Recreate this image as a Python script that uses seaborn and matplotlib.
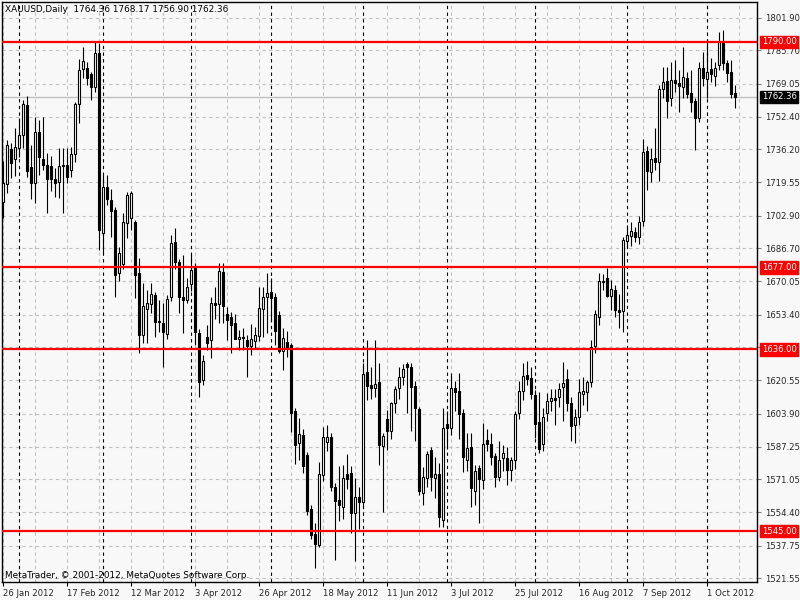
import matplotlib
matplotlib.use("Agg")
import matplotlib.pyplot as plt
import matplotlib.transforms as mtransforms
import numpy as np
import pandas as pd
import seaborn as sns

# ---------------- data ----------------
opens = [1709.9, 1718.8, 1736.3, 1731.2, 1736.7, 1743.3, 1758.2, 1727.1, 1719.5, 1744.7,
         1731.3, 1728.5, 1727.8, 1721.2, 1719.9, 1727.6, 1728.2, 1725.8, 1733.8, 1758.9,
         1776.2, 1776.7, 1773.9, 1767.5, 1784.5, 1694.1, 1717.1, 1710.8, 1705.8, 1674.1,
         1678.8, 1699.1, 1702.0, 1699.9, 1674.1, 1643.2, 1656.4, 1658.6, 1663.1, 1649.6,
         1649.1, 1643.6, 1662.1, 1689.6, 1679.6, 1662.2, 1660.7, 1668.7, 1676.6, 1644.2,
         1620.7, 1642.2, 1640.7, 1659.4, 1658.7, 1674.6, 1653.7, 1652.1, 1649.4, 1641.1,
         1642.1, 1640.7, 1637.7, 1640.0, 1642.7, 1656.1, 1662.1, 1664.9, 1662.1, 1653.2,
         1635.4, 1639.9, 1638.2, 1605.3, 1589.0, 1593.2, 1583.1, 1555.9, 1543.4, 1538.1,
         1573.0, 1589.8, 1592.3, 1567.3, 1560.6, 1557.3, 1573.6, 1574.0, 1553.9, 1561.9,
         1559.5, 1624.8, 1618.2, 1616.5, 1619.5, 1587.8, 1601.0, 1595.3, 1609.0, 1616.8,
         1622.3, 1628.5, 1627.3, 1617.7, 1606.2, 1564.0, 1571.8, 1585.6, 1571.5, 1573.6,
         1550.6, 1598.7, 1596.5, 1616.5, 1615.2, 1604.0, 1580.6, 1587.0, 1565.3, 1576.5,
         1570.6, 1590.6, 1588.6, 1582.6, 1572.3, 1581.6, 1581.5, 1575.6, 1580.6, 1604.3,
         1615.2, 1623.2, 1621.6, 1613.2, 1599.5, 1588.5, 1604.0, 1610.3, 1611.5, 1612.0,
         1617.0, 1621.0, 1609.0, 1598.2, 1602.3, 1613.5, 1614.8, 1619.8, 1637.5, 1652.1,
         1669.6, 1671.6, 1662.7, 1665.7, 1655.7, 1655.4, 1690.3, 1692.8, 1694.9, 1692.4,
         1700.4, 1735.3, 1725.0, 1731.7, 1730.0, 1766.3, 1770.5, 1761.7, 1770.9, 1769.2,
         1767.2, 1771.7, 1764.2, 1760.3, 1752.0, 1776.7, 1771.2, 1776.2, 1772.8, 1778.4,
         1789.5, 1779.5, 1774.9, 1764.36]
highs = [1730.3, 1740.8, 1739.2, 1747.0, 1752.0, 1760.9, 1762.9, 1738.3, 1752.2, 1750.8,
         1752.2, 1734.2, 1732.8, 1726.7, 1736.7, 1736.7, 1736.7, 1737.2, 1760.0, 1781.2,
         1787.5, 1780.0, 1775.0, 1790.0, 1789.5, 1723.3, 1723.3, 1716.1, 1707.5, 1687.4,
         1704.1, 1714.9, 1715.5, 1701.0, 1681.6, 1669.1, 1665.7, 1669.1, 1664.9, 1660.7,
         1659.1, 1663.0, 1693.3, 1696.6, 1681.0, 1683.3, 1671.6, 1683.8, 1679.0, 1646.0,
         1633.2, 1648.2, 1662.4, 1667.4, 1679.4, 1679.1, 1657.4, 1654.9, 1653.7, 1645.7,
         1646.5, 1643.2, 1648.7, 1647.0, 1667.4, 1667.4, 1674.0, 1671.6, 1664.0, 1655.0,
         1646.6, 1645.0, 1639.1, 1606.5, 1601.5, 1596.0, 1584.8, 1558.0, 1548.9, 1579.8,
         1597.0, 1598.2, 1594.0, 1569.0, 1577.8, 1578.2, 1583.6, 1577.6, 1571.5, 1567.0,
         1629.0, 1640.7, 1627.0, 1640.7, 1629.0, 1594.0, 1605.7, 1609.8, 1617.6, 1627.3,
         1628.5, 1629.9, 1629.0, 1620.0, 1607.0, 1577.0, 1585.0, 1587.0, 1582.3, 1579.0,
         1606.5, 1605.0, 1624.3, 1620.0, 1624.0, 1606.0, 1594.0, 1594.0, 1578.0, 1578.0,
         1599.0, 1596.0, 1594.0, 1584.0, 1590.0, 1588.0, 1587.0, 1582.0, 1605.0, 1620.0,
         1629.0, 1630.0, 1627.0, 1615.7, 1614.8, 1606.5, 1614.0, 1616.0, 1616.0, 1619.0,
         1629.8, 1626.0, 1612.0, 1606.0, 1621.0, 1622.0, 1620.8, 1640.7, 1655.7, 1674.1,
         1673.7, 1676.6, 1670.7, 1668.0, 1663.6, 1692.4, 1698.3, 1700.0, 1697.4, 1703.0,
         1741.3, 1738.0, 1737.0, 1746.7, 1768.4, 1777.2, 1777.5, 1780.0, 1781.0, 1776.0,
         1787.5, 1775.0, 1776.0, 1762.0, 1780.0, 1785.0, 1791.0, 1782.0, 1780.0, 1794.7,
         1795.9, 1781.0, 1781.0, 1768.17]
lows = [1701.8, 1714.2, 1721.7, 1722.8, 1732.5, 1736.7, 1722.4, 1711.1, 1709.4, 1723.3,
        1725.8, 1704.1, 1715.4, 1712.4, 1711.6, 1704.4, 1719.1, 1722.4, 1730.0, 1749.2,
        1771.7, 1768.4, 1760.9, 1765.0, 1685.8, 1684.1, 1708.3, 1692.4, 1662.4, 1670.4,
        1676.0, 1691.6, 1696.0, 1661.6, 1634.0, 1639.1, 1639.1, 1654.1, 1642.4, 1644.9,
        1627.3, 1641.0, 1660.0, 1676.0, 1654.1, 1644.1, 1659.1, 1665.0, 1638.2, 1612.3,
        1618.0, 1635.7, 1631.5, 1651.0, 1649.1, 1649.1, 1640.7, 1634.0, 1641.0, 1635.7,
        1635.8, 1622.3, 1633.2, 1636.0, 1640.0, 1642.4, 1644.0, 1650.0, 1638.0, 1634.0,
        1625.7, 1632.0, 1594.8, 1578.6, 1580.6, 1574.2, 1553.0, 1541.0, 1526.4, 1537.2,
        1570.0, 1585.0, 1565.0, 1530.6, 1550.0, 1551.0, 1566.0, 1544.0, 1530.2, 1546.0,
        1557.0, 1610.7, 1611.0, 1612.0, 1578.1, 1554.8, 1585.6, 1591.0, 1604.0, 1611.0,
        1618.0, 1604.0, 1595.0, 1590.0, 1563.1, 1558.0, 1567.0, 1565.0, 1561.5, 1547.2,
        1547.0, 1586.0, 1593.0, 1605.0, 1591.0, 1574.5, 1575.0, 1557.0, 1558.0, 1549.0,
        1566.0, 1585.0, 1578.0, 1567.0, 1570.0, 1575.0, 1568.0, 1570.0, 1576.0, 1601.0,
        1610.7, 1618.0, 1611.0, 1591.5, 1584.0, 1585.0, 1600.0, 1605.0, 1598.0, 1607.0,
        1600.0, 1605.0, 1590.0, 1589.0, 1598.0, 1608.0, 1605.0, 1617.0, 1634.0, 1648.0,
        1665.7, 1662.4, 1655.7, 1652.0, 1646.6, 1644.9, 1686.6, 1688.0, 1690.0, 1689.0,
        1698.0, 1715.8, 1720.0, 1726.0, 1720.5, 1762.0, 1751.7, 1758.0, 1765.0, 1755.0,
        1762.0, 1762.0, 1755.0, 1735.8, 1750.0, 1768.0, 1762.0, 1770.0, 1768.0, 1776.0,
        1776.0, 1770.0, 1762.0, 1756.90]
closes = [1719.1, 1738.3, 1729.2, 1737.2, 1743.3, 1758.9, 1725.5, 1719.5, 1744.7, 1732.5,
          1728.5, 1721.2, 1721.5, 1719.5, 1727.8, 1728.1, 1722.4, 1733.7, 1758.9, 1775.9,
          1780.4, 1771.7, 1767.2, 1784.2, 1695.8, 1717.5, 1711.3, 1705.4, 1673.4, 1684.1,
          1699.9, 1713.3, 1714.4, 1673.1, 1643.2, 1657.7, 1659.1, 1663.7, 1649.9, 1650.2,
          1644.9, 1661.2, 1689.1, 1679.9, 1662.4, 1660.6, 1667.2, 1675.7, 1644.9, 1619.5,
          1630.2, 1639.4, 1659.1, 1658.1, 1675.3, 1657.7, 1650.7, 1648.2, 1641.4, 1642.1,
          1641.5, 1637.7, 1641.1, 1643.2, 1656.6, 1662.1, 1664.4, 1661.6, 1645.4, 1635.4,
          1641.6, 1637.0, 1604.3, 1588.1, 1593.5, 1577.8, 1555.2, 1543.1, 1538.4, 1573.5,
          1592.0, 1592.3, 1567.3, 1560.3, 1558.1, 1571.5, 1571.1, 1554.3, 1561.9, 1559.8,
          1623.7, 1617.8, 1616.5, 1618.5, 1588.1, 1592.6, 1595.2, 1609.0, 1616.0, 1622.3,
          1626.0, 1627.3, 1617.3, 1606.8, 1565.1, 1572.3, 1583.5, 1572.3, 1573.6, 1551.9,
          1596.5, 1596.5, 1616.5, 1614.8, 1603.6, 1582.3, 1586.8, 1566.5, 1575.1, 1571.0,
          1588.6, 1588.5, 1582.3, 1572.3, 1580.6, 1584.0, 1575.6, 1580.6, 1603.6, 1615.2,
          1622.7, 1621.0, 1613.5, 1598.7, 1586.1, 1602.0, 1610.2, 1611.5, 1610.8, 1616.0,
          1619.3, 1609.0, 1597.8, 1602.0, 1614.5, 1615.2, 1619.8, 1637.3, 1653.7, 1670.2,
          1670.0, 1662.7, 1666.1, 1655.7, 1654.6, 1690.7, 1693.3, 1695.3, 1692.4, 1699.9,
          1734.7, 1725.3, 1731.2, 1730.0, 1766.2, 1769.7, 1760.5, 1770.9, 1769.5, 1767.9,
          1772.2, 1763.9, 1760.0, 1751.7, 1776.7, 1771.7, 1774.7, 1773.7, 1776.8, 1790.0,
          1779.2, 1774.2, 1763.9, 1762.36]

date_labels = ["26 Jan 2012", "17 Feb 2012", "12 Mar 2012", "3 Apr 2012", "26 Apr 2012",
               "18 May 2012", "11 Jun 2012", "3 Jul 2012", "25 Jul 2012", "16 Aug 2012",
               "7 Sep 2012", "1 Oct 2012"]
price_ticks = [1801.90, 1785.70, 1769.05, 1752.40, 1736.20, 1719.55, 1702.90, 1686.70,
               1670.05, 1653.40, 1637.20, 1620.55, 1603.90, 1587.25, 1571.05, 1554.40,
               1537.75, 1521.55]
hidden_ticks = [1637.20]   # covered by the 1636.00 level box in the reference
levels = [1790.00, 1677.00, 1636.00, 1545.00]
symbol = "XAUUSD,Daily"
last_ohlc = [1764.36, 1768.17, 1756.90, 1762.36]

# trading days (Good Friday closed)
dates = pd.bdate_range("2012-01-26", "2012-10-10")
dates = dates[dates != pd.Timestamp("2012-04-06")]

df = pd.DataFrame({"date": dates, "open": opens, "high": highs,
                   "low": lows, "close": closes})
df["idx"] = np.arange(len(df))
df["bull"] = df["close"] >= df["open"]

# ---------------- style ----------------
sns.set_style("white")
plt.rcParams["font.family"] = ["DejaVu Sans"]
BG = "#f8f8f8"
FS = 6.1

fig = plt.figure(figsize=(8, 6), dpi=100, facecolor=BG)
ax = fig.add_axes([2 / 800, 18 / 600, 755 / 800, 580 / 600])
ax.set_facecolor(BG)

ymin, ymax = 1519.55, 1809.9
ax.set_xlim(-0.25, 188.5)
ax.set_ylim(ymin, ymax)

# grid
for p in price_ticks:
    ax.axhline(p, color="#c0c0c0", lw=0.8, ls=(0, (3, 3)), zorder=0)
for b in range(0, 189, 8):
    ax.axvline(b, color="#c0c0c0", lw=0.8, ls=(0, (3, 3)), zorder=0)

# month separators
month_start = df.groupby(df["date"].dt.to_period("M"))["idx"].min().values[1:]
for b in month_start:
    ax.axvline(b, color="black", lw=0.8, ls=(0, (3, 3)), zorder=1)

# current price line
ax.axhline(closes[-1], color="#c0c0c0", lw=1.0, zorder=1)

# candles
ax.vlines(df["idx"], df["low"], df["high"], color="black", lw=0.8, zorder=3)
body_lo = np.minimum(df["open"], df["close"])
body_h = np.maximum(np.abs(df["close"] - df["open"]), 0.35)
colors = np.where(df["bull"], "white", "black")
ax.bar(df["idx"], body_h, bottom=body_lo, width=0.55, color=colors,
       edgecolor="black", linewidth=0.8, zorder=4)

# horizontal levels
for lv in levels:
    ax.axhline(lv, color="#ff0000", lw=1.6, zorder=5)

# axes / ticks
for s in ax.spines.values():
    s.set_color("black")
    s.set_linewidth(1.0)
ax.yaxis.tick_right()
ax.set_yticks(price_ticks)
ax.set_yticklabels(["" if p in hidden_ticks else f"{p:.2f}" for p in price_ticks],
                   fontsize=FS)
ax.tick_params(axis="y", length=3, width=0.8, color="#808080", pad=2.5,
               right=True, left=False)

tick_pos = list(range(0, len(df), 16))
ax.set_xticks(tick_pos)
ax.set_xticklabels(date_labels, fontsize=FS, ha="left")
ax.tick_params(axis="x", length=3, width=0.8, color="black", pad=2, bottom=True)
for lbl in ax.get_xticklabels():
    lbl.set_horizontalalignment("left")

# right-axis boxes
trans = mtransforms.blended_transform_factory(ax.transAxes, ax.transData)
for lv in levels:
    ax.text(1.0065, lv, f"{lv:.2f}", transform=trans, ha="left", va="center",
            fontsize=FS, color="white", zorder=10, clip_on=False,
            bbox=dict(boxstyle="square,pad=0.2", fc="#ff0000", ec="#ff0000"))
ax.text(1.0065, closes[-1], f"{closes[-1]:.2f}", transform=trans, ha="left", va="center",
        fontsize=FS, color="white", zorder=10, clip_on=False,
        bbox=dict(boxstyle="square,pad=0.2", fc="black", ec="black"))

# texts
fig.text(5 / 800, 1 - 10 / 600,
         f"{symbol}  " + " ".join(f"{v:.2f}" for v in last_ohlc),
         fontsize=FS + 0.3, ha="left", va="center", color="black")
fig.text(5 / 800, 1 - 576 / 600,
         "MetaTrader, © 2001-2012, MetaQuotes Software Corp.",
         fontsize=FS + 0.3, ha="left", va="center", color="black")

fig.savefig("out.png", dpi=100, facecolor=BG)
